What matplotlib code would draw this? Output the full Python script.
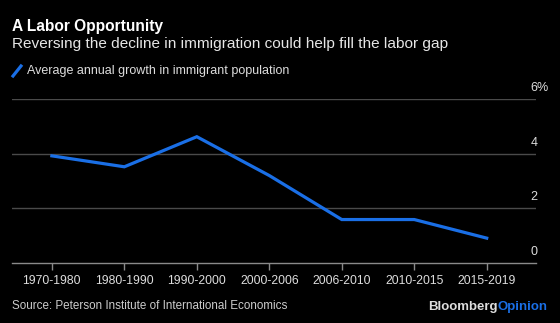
import matplotlib
matplotlib.use("Agg")
import matplotlib.pyplot as plt
from matplotlib.lines import Line2D

categories = ["1970-1980", "1980-1990", "1990-2000", "2000-2006", "2006-2010", "2010-2015", "2015-2019"]
growth = [3.92, 3.52, 4.62, 3.2, 1.59, 1.59, 0.91]
y_ticks = [0, 2, 4, 6]
y_labels = ["0", "2", "4", "6%"]

plt.rcParams['font.family'] = ['Liberation Sans', 'DejaVu Sans']
W, H = 560, 323
fig = plt.figure(figsize=(W / 100, H / 100), dpi=100, facecolor='black')

left, right, top, bottom = 12, 536, 99, 263
ax = fig.add_axes([left / W, 1 - bottom / H, (right - left) / W, (bottom - top) / H])
ax.set_facecolor('black')

x = list(range(len(categories)))
ax.plot(x, growth, color='#1a6fe6', lw=2.3, solid_joinstyle='miter', zorder=3)

ax.set_xlim(-0.55, 6.68)
ax.set_ylim(0, 6)

for t in y_ticks[1:]:
    ax.axhline(t, color='#4a4a4a', lw=1.0, zorder=1)
for t, lab in zip(y_ticks, y_labels):
    ax.text(0.989, t + 0.18, lab, transform=ax.get_yaxis_transform(), color='#dddddd',
            fontsize=9, ha='left', va='bottom', clip_on=False)

for s in ['top', 'right', 'left']:
    ax.spines[s].set_visible(False)
ax.spines['bottom'].set_color('#8a8a8a')
ax.spines['bottom'].set_linewidth(1.0)
ax.set_yticks([])
ax.set_xticks(x)
ax.set_xticklabels(categories)
ax.tick_params(axis='x', colors='#8a8a8a', length=5, width=1, labelcolor='#dddddd',
               labelsize=8.8, pad=4)

fig.text(12 / W, 1 - 27 / H, "A Labor Opportunity", color='white', fontsize=11.2,
         fontweight='bold', ha='left', va='center')
fig.text(12 / W, 1 - 44 / H, "Reversing the decline in immigration could help fill the labor gap",
         color='#e6e6e6', fontsize=11.1, ha='left', va='center')
fig.add_artist(Line2D([13 / W, 21 / W], [1 - 76 / H, 1 - 66 / H], color='#1a6fe6', lw=2.3,
                      transform=fig.transFigure))
fig.text(27 / W, 1 - 71 / H, "Average annual growth in immigrant population", color='#dddddd',
         fontsize=9, ha='left', va='center')
fig.text(12 / W, 1 - 306 / H, "Source: Peterson Institute of International Economics",
         color='#cccccc', fontsize=8.4, ha='left', va='center')
t1 = fig.text(428 / W, 1 - 307 / H, "Bloomberg", color='#dddddd', fontsize=9.5,
              fontweight='bold', ha='left', va='center')
fig.canvas.draw()
bb = t1.get_window_extent()
fig.text(bb.x1 / W, 1 - 307 / H, "Opinion", color='#1a6fe6', fontsize=9.5,
         fontweight='bold', ha='left', va='center')

fig.savefig("out.png", dpi=100, facecolor='black')
